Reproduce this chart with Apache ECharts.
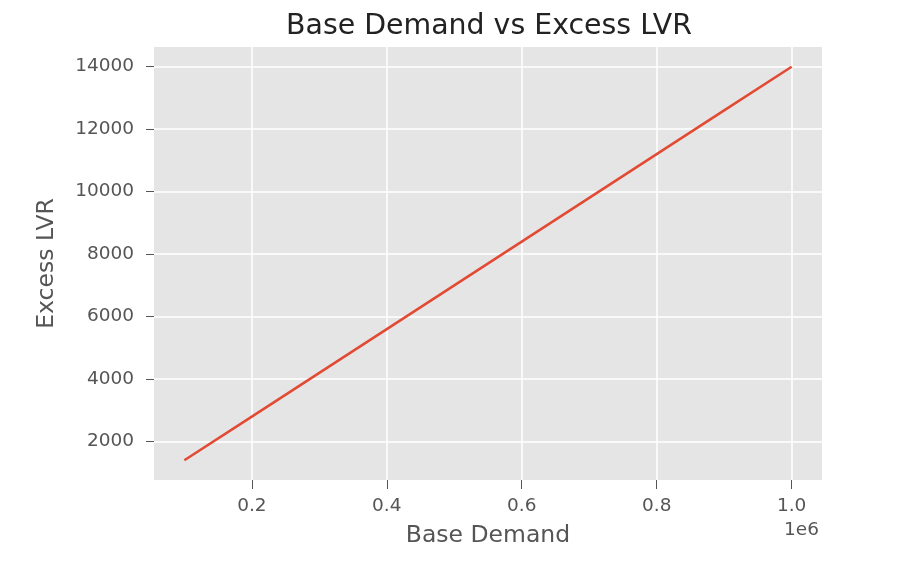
<!DOCTYPE html>
<html>
<head>
<meta charset="utf-8">
<script src="https://cdn.jsdelivr.net/npm/echarts@6/dist/echarts.min.js"></script>
<style>html,body{margin:0;padding:0;background:#fff;}#c{width:899px;height:570px;}</style>
</head>
<body>
<div id="c"></div>
<script>
const titleText = 'Base Demand vs Excess LVR';
const xName = 'Base Demand';
const yName = 'Excess LVR';
const baseDemand = [100000, 200000, 300000, 400000, 500000, 600000, 700000, 800000, 900000, 1000000];
const excessLVR = [1400, 2800, 4200, 5600, 7000, 8400, 9800, 11200, 12600, 14000];
const xTicks = [200000, 400000, 600000, 800000, 1000000];
const yTicks = [2000, 4000, 6000, 8000, 10000, 12000, 14000];

const font = 'DejaVu Sans';
const chart = echarts.init(document.getElementById('c'), null, {renderer: 'canvas'});
chart.setOption({
  animation: false,
  backgroundColor: '#ffffff',
  title: {
    text: titleText,
    left: 484,
    textAlign: 'center',
    top: 8,
    textStyle: {fontFamily: font, fontSize: 28.4, fontWeight: 'normal', color: '#222222'}
  },
  graphic: [{
    type: 'text',
    right: 80,
    top: 521,
    style: {text: '1e6', fontFamily: font, fontSize: 18.5, fill: '#555555'}
  }],
  grid: {
    left: 154, right: 77, top: 47, bottom: 90,
    show: true, backgroundColor: '#E5E5E5', borderWidth: 0
  },
  xAxis: {
    type: 'value',
    min: 55000, max: 1045000,
    name: xName,
    nameLocation: 'middle',
    nameGap: 44,
    nameTextStyle: {fontFamily: font, fontSize: 23.5, color: '#555555'},
    axisLine: {show: false},
    axisTick: {show: true, customValues: xTicks, length: 9, lineStyle: {color: '#555555', width: 1}},
    axisLabel: {customValues: xTicks, margin: 17, fontFamily: font, fontSize: 18.5, color: '#555555',
      formatter: v => (v / 1e6).toFixed(1)},
    splitLine: {show: true, lineStyle: {color: '#ffffff', width: 1.5}}
  },
  yAxis: {
    type: 'value',
    min: 770, max: 14630,
    name: yName,
    nameLocation: 'middle',
    nameGap: 95,
    nameTextStyle: {fontFamily: font, fontSize: 23.5, color: '#555555'},
    axisLine: {show: false},
    axisTick: {show: true, customValues: yTicks, length: 8, lineStyle: {color: '#555555', width: 1}},
    axisLabel: {customValues: yTicks, margin: 20, fontFamily: font, fontSize: 18.5, color: '#555555',
      formatter: v => String(v)},
    splitLine: {show: true, lineStyle: {color: '#ffffff', width: 1.5}}
  },
  series: [{
    type: 'line',
    data: baseDemand.map((x, i) => [x, excessLVR[i]]),
    showSymbol: false,
    lineStyle: {color: '#E24A33', width: 2.5},
    itemStyle: {color: '#E24A33'}
  }]
});
</script>
</body>
</html>
